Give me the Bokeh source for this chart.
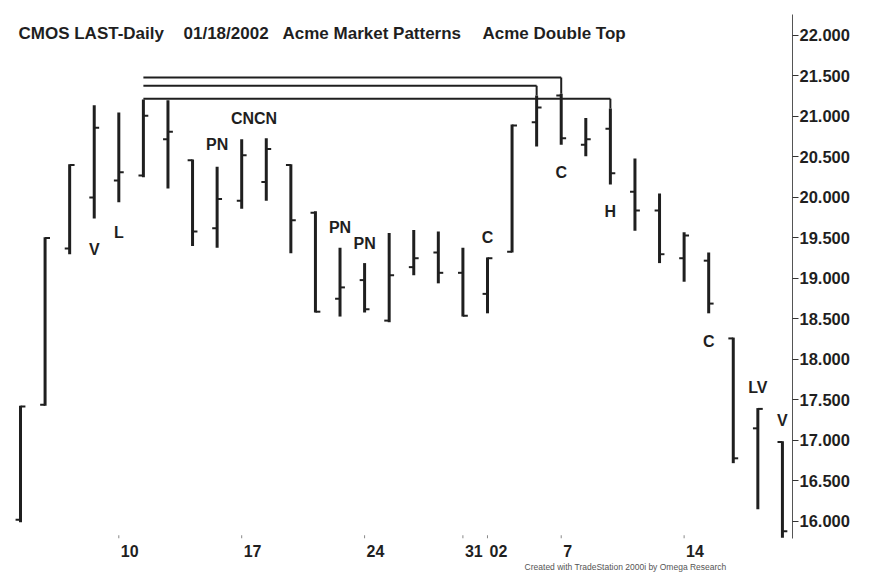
from bokeh.plotting import figure
from bokeh.models import (Range1d, FixedTicker, PrintfTickFormatter, Title,
                          ColumnDataSource, Label)
from bokeh.core.properties import value
from bokeh.embed import file_html
from bokeh.resources import INLINE

# ---------------- data ----------------
dates = ["2001-12-04", "2001-12-05", "2001-12-06", "2001-12-07",
         "2001-12-10", "2001-12-11", "2001-12-12", "2001-12-13", "2001-12-14",
         "2001-12-17", "2001-12-18", "2001-12-19", "2001-12-20", "2001-12-21",
         "2001-12-24", "2001-12-26", "2001-12-27", "2001-12-28", "2001-12-31",
         "2002-01-02", "2002-01-03", "2002-01-04",
         "2002-01-07", "2002-01-08", "2002-01-09", "2002-01-10", "2002-01-11",
         "2002-01-14", "2002-01-15", "2002-01-16", "2002-01-17", "2002-01-18"]
opens = [16.02, 17.44, 19.37, 20.00, 20.21, 20.27, 20.72, 20.46, 19.62,
         19.96, 20.19, 20.40, 19.81, 18.75, 18.98, 18.48, 19.14, 19.32, 19.07,
         18.81, 19.33, 20.93, 21.26, 20.65, 20.85, 20.07, 19.84, 19.25, 19.22,
         18.26, 17.15, 16.98]
highs = [17.43, 19.51, 20.41, 21.14, 21.05, 21.21, 21.20, 20.47, 20.38,
         20.72, 20.73, 20.41, 19.83, 19.38, 19.19, 19.56, 19.60, 19.58, 19.38,
         19.26, 20.90, 21.26, 21.28, 20.98, 21.10, 20.48, 20.05, 19.57, 19.32,
         18.27, 17.40, 16.99]
lows = [15.99, 17.43, 19.30, 19.74, 19.94, 20.25, 20.11, 19.40, 19.38,
        19.86, 19.96, 19.31, 18.58, 18.53, 18.58, 18.46, 19.04, 18.94, 18.53,
        18.57, 19.32, 20.63, 20.65, 20.51, 20.16, 19.59, 19.19, 18.96, 18.57,
        16.72, 16.15, 15.80]
closes = [17.42, 19.50, 20.40, 20.86, 20.31, 21.01, 20.81, 19.58, 19.98,
          20.52, 20.60, 19.72, 18.59, 18.89, 18.62, 19.04, 19.25, 19.07, 18.54,
          19.25, 20.89, 21.11, 20.73, 20.72, 20.30, 19.84, 19.30, 19.53, 18.69,
          16.78, 17.39, 15.88]

tick_dates = ["2001-12-10", "2001-12-17", "2001-12-24", "2001-12-31",
              "2002-01-02", "2002-01-07", "2002-01-14"]
tick_labels = ["10", "17", "24", "31", "02", "7", "14"]

price_ticks = [16.0, 16.5, 17.0, 17.5, 18.0, 18.5, 19.0, 19.5, 20.0, 20.5,
               21.0, 21.5, 22.0]

# double-top bracket lines: start date, end date, price level
bracket_start = ["2001-12-11", "2001-12-11", "2001-12-11"]
bracket_end = ["2002-01-07", "2002-01-04", "2002-01-09"]
bracket_level = [21.48, 21.38, 21.22]

# pattern annotations: text, date, price (position of label centre)
pat_text = ["V", "L", "PN", "CNCN", "PN", "PN", "C", "C", "H", "C", "LV", "V"]
pat_date = ["2001-12-07", "2001-12-10", "2001-12-14", "2001-12-17",
            "2001-12-21", "2001-12-24", "2002-01-02", "2002-01-07",
            "2002-01-09", "2002-01-15", "2002-01-17", "2002-01-18"]
pat_shift = [0, 0, 0, 0.5, 0, 0, 0, 0, 0, 0, 0, 0]
pat_price = [19.36, 19.57, 20.65, 20.98, 19.63, 19.43, 19.51, 20.31, 19.83,
             18.22, 17.65, 17.25]

title_parts = ["CMOS LAST-Daily", "01/18/2002", "Acme Market Patterns",
               "Acme Double Top"]
title_x = [4, 169, 268, 468]

footer = "Created with TradeStation 2000i by Omega Research"

# ---------------- build ----------------
FW, FH = 778, 524                     # plot frame size
FL, FT, FR, FB = 14, 14, 78, 38       # borders around the frame

idx = list(range(len(dates)))
pos = {d: i for i, d in enumerate(dates)}
tick_w = 0.2

src = ColumnDataSource(dict(
    x=idx, o=opens, h=highs, l=lows, c=closes,
    xl=[i - tick_w for i in idx], xr=[i + tick_w for i in idx]))

FONT = "Liberation Sans"
INK = "#1f1f1f"

p = figure(frame_width=FW, frame_height=FH, output_backend="svg",
           toolbar_location=None,
           x_range=Range1d(-0.244, 31.41), y_range=Range1d(15.79, 22.259),
           x_axis_location="below", y_axis_location="right",
           min_border_left=FL, min_border_top=FT, min_border_right=FR,
           min_border_bottom=FB)
p.xgrid.visible = False
p.ygrid.visible = False
p.outline_line_color = None
p.background_fill_color = "white"
p.border_fill_color = "white"

xa = p.below[0]      # date axis
ya = p.right[0]      # price axis

# bars
p.segment(x0="x", y0="l", x1="x", y1="h", source=src, line_color=INK,
          line_width=3)
p.segment(x0="xl", y0="o", x1="x", y1="o", source=src, line_color=INK,
          line_width=2)
p.segment(x0="x", y0="c", x1="xr", y1="c", source=src, line_color=INK,
          line_width=2)

# bracket lines
bx0, bx1, by, bylow = [], [], [], []
for s, e, lv in zip(bracket_start, bracket_end, bracket_level):
    bx0.append(pos[s]); bx1.append(pos[e]); by.append(lv)
    bylow.append(highs[pos[e]])
p.segment(x0=bx0, y0=by, x1=bx1, y1=by, line_color=INK, line_width=2)
p.segment(x0=bx1, y0=by, x1=bx1, y1=bylow, line_color=INK, line_width=2)

# pattern labels
p.text(x=[pos[d] + s for d, s in zip(pat_date, pat_shift)], y=pat_price,
       text=pat_text, text_font=value(FONT), text_font_style="bold",
       text_font_size="16px", text_color=INK, text_align="center",
       text_baseline="middle")

# chart heading inside the window
for t, tx in zip(title_parts, title_x):
    p.add_layout(Label(x=tx, y=FH - 19, x_units="screen",
                       y_units="screen", text=t, text_font=FONT,
                       text_font_style="bold", text_font_size="17px",
                       text_color=INK, text_baseline="alphabetic"))

# y axis (right)
ya.ticker = FixedTicker(ticks=price_ticks)
ya.formatter = PrintfTickFormatter(format="%.3f")
ya.major_label_text_font = FONT
ya.major_label_text_font_style = "bold"
ya.major_label_text_font_size = "16.5px"
ya.major_label_text_color = INK
ya.major_tick_out = 6
ya.major_tick_in = 0
ya.minor_tick_line_color = None
ya.axis_line_color = "#555"
ya.major_tick_line_color = "#333"
ya.major_label_standoff = 1

# x axis (below): labels sit to the right of their day
tick_idx = [pos[d] for d in tick_dates]
lab_pos = [i + (2 + 4.45 * len(t)) / 24.58 for i, t in zip(tick_idx, tick_labels)]
xa.ticker = FixedTicker(ticks=lab_pos)
xa.major_label_overrides = {x: t for x, t in zip(lab_pos, tick_labels)}
xa.major_label_text_font = FONT
xa.major_label_text_font_style = "bold"
xa.major_label_text_font_size = "16px"
xa.major_label_text_color = INK
xa.axis_line_color = None
xa.major_tick_line_color = None
xa.minor_tick_line_color = None
xa.major_tick_out = 0
xa.major_tick_in = 0
xa.major_label_standoff = 6
# small day marks above the labels
p.segment(x0=tick_idx, x1=tick_idx, y0=[15.79] * len(tick_idx),
          y1=[15.83] * len(tick_idx), line_color="#888", line_width=1)

# footer strip
p.add_layout(Title(text=footer, align="right", text_font=FONT,
                   text_font_size="8.5px", text_font_style="normal",
                   text_color="#555", standoff=1, offset=66), "below")

open("out.html", "w").write(file_html(p, INLINE))
